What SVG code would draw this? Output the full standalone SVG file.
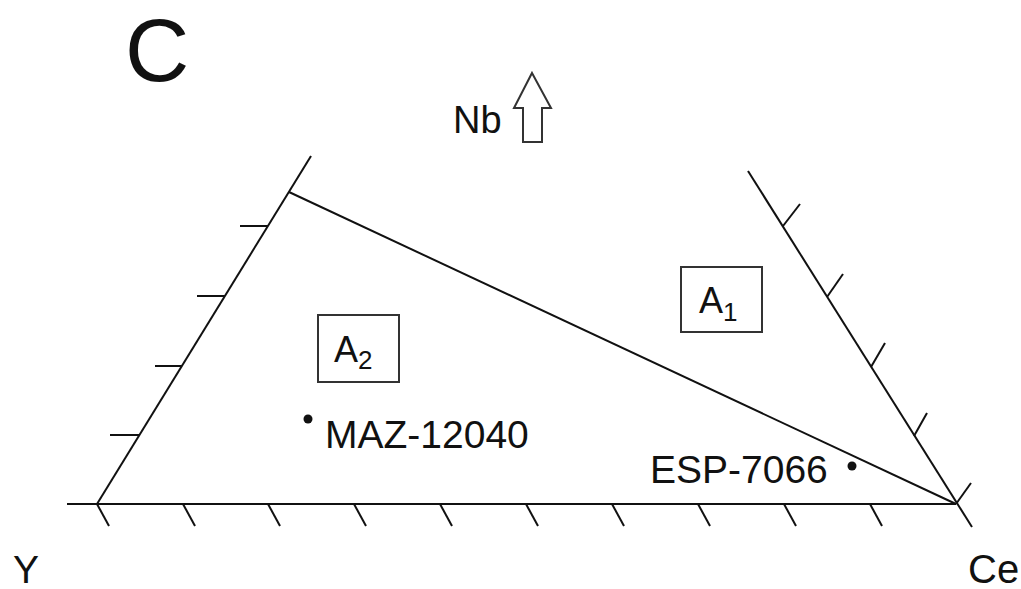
<svg xmlns="http://www.w3.org/2000/svg" width="1021" height="589" viewBox="0 0 1021 589">
  <style>
    .ax { stroke: #111; stroke-width: 2; fill: none; stroke-linecap: butt; }
    .tk { stroke: #111; stroke-width: 2; fill: none; }
    .box { stroke: #333; stroke-width: 2; fill: #fff; }
    .t { font-family: "Liberation Sans", Arial, sans-serif; fill: #111; }
    .dot { fill: #111; }
  </style>
  <rect width="1021" height="589" fill="#fff"/>

  <!-- panel letter -->
  <text class="t" x="125" y="81" font-size="89">C</text>

  <g id="connectors">
    <!-- Y - Ce base -->
    <line class="ax" x1="67" y1="504" x2="956" y2="504"/>
    <!-- Y - Nb side -->
    <line class="ax" x1="97" y1="504" x2="311" y2="156"/>
    <!-- Ce - Nb side -->
    <line class="ax" x1="748" y1="171" x2="972" y2="527"/>
    <!-- A1 / A2 boundary -->
    <line class="ax" x1="289" y1="192" x2="956" y2="504"/>

    <!-- base ticks -->
    <g class="tk">
      <line x1="97" y1="504" x2="109" y2="526"/>
      <line x1="183" y1="504" x2="195" y2="526"/>
      <line x1="268" y1="504" x2="280" y2="526"/>
      <line x1="354" y1="504" x2="366" y2="526"/>
      <line x1="440" y1="504" x2="452" y2="526"/>
      <line x1="526" y1="504" x2="538" y2="526"/>
      <line x1="612" y1="504" x2="624" y2="526"/>
      <line x1="698" y1="504" x2="710" y2="526"/>
      <line x1="784" y1="504" x2="796" y2="526"/>
      <line x1="870" y1="504" x2="882" y2="526"/>
    </g>
    <!-- left side ticks -->
    <g class="tk">
      <line x1="268" y1="226" x2="240" y2="226"/>
      <line x1="225" y1="296" x2="197" y2="296"/>
      <line x1="182" y1="366" x2="155" y2="366"/>
      <line x1="139" y1="435" x2="110" y2="435"/>
    </g>
    <!-- right side ticks -->
    <g class="tk">
      <line x1="783" y1="226" x2="800" y2="204"/>
      <line x1="827" y1="297" x2="843" y2="274"/>
      <line x1="871" y1="367" x2="885" y2="343"/>
      <line x1="914" y1="436" x2="927" y2="413"/>
      <line x1="956" y1="504" x2="971" y2="483"/>
    </g>
  </g>

  <!-- Nb direction -->
  <g id="nb">
    <text class="t" x="453" y="133" font-size="38">Nb</text>
    <path d="M532,73 L551,108 L542,108 L542,142 L523,142 L523,108 L514,108 Z" fill="#fff" stroke="#333" stroke-width="2" stroke-linejoin="miter"/>
  </g>

  <g id="A1">
    <rect class="box" x="681" y="267" width="81" height="65"/>
    <text class="t" x="699" y="313" font-size="36">A<tspan font-size="26" dy="8">1</tspan></text>
  </g>

  <g id="A2">
    <rect class="box" x="318" y="315" width="81" height="67"/>
    <text class="t" x="334" y="362" font-size="36">A<tspan font-size="26" dy="7">2</tspan></text>
  </g>

  <g id="MAZ-12040">
    <circle class="dot" cx="308" cy="419" r="4.5"/>
    <text class="t" x="325" y="448" font-size="39">MAZ-12040</text>
  </g>

  <g id="ESP-7066">
    <circle class="dot" cx="852" cy="466" r="4.5"/>
    <text class="t" x="650" y="483" font-size="39">ESP-7066</text>
  </g>

  <g id="Y">
    <text class="t" x="13" y="583" font-size="39">Y</text>
  </g>
  <g id="Ce">
    <text class="t" x="968" y="583" font-size="40">Ce</text>
  </g>
</svg>
